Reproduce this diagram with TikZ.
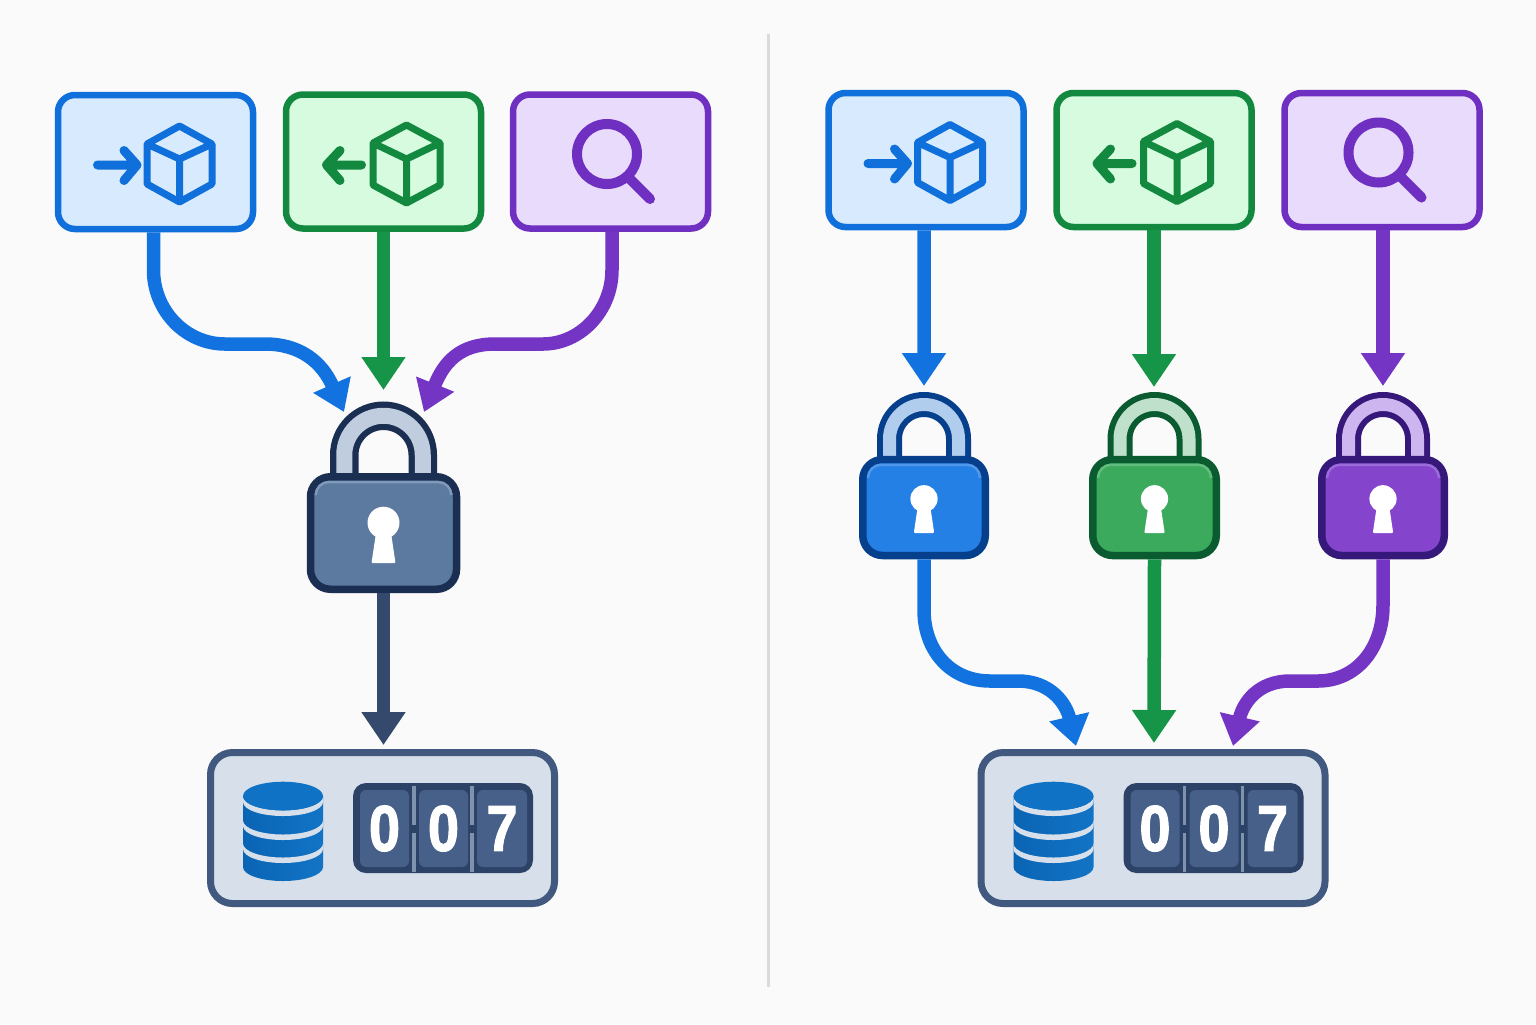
\documentclass[tikz,border=0pt]{standalone}
\usepackage{fontspec}
\newfontfamily\digitfont[FakeStretch=0.86,FakeBold=1.6,UprightFont=* Bold]{Liberation Sans}
\usetikzlibrary{arrows.meta, positioning, calc}

\definecolor{pagebg}{HTML}{FAFAFA}
\definecolor{rulegray}{HTML}{D9DADB}
\definecolor{edgeblue}{HTML}{0F6FDB}
\definecolor{tintblue}{HTML}{D8EAFD}
\definecolor{lineblue}{HTML}{1273E0}
\definecolor{edgegreen}{HTML}{12893F}
\definecolor{tintgreen}{HTML}{D6FBDF}
\definecolor{linegreen}{HTML}{169447}
\definecolor{edgepurple}{HTML}{6F2FC0}
\definecolor{tintpurple}{HTML}{E8DBFB}
\definecolor{linepurple}{HTML}{7434C4}
\definecolor{lineslate}{HTML}{34496C}
\definecolor{lockslate}{HTML}{5C7A9F}
\definecolor{darkslate}{HTML}{1B2F52}
\definecolor{bandslate}{HTML}{BFCDDE}
\definecolor{rimslate}{HTML}{7F99BB}
\definecolor{lockblue}{HTML}{2580E5}
\definecolor{darkblue}{HTML}{063F8C}
\definecolor{bandblue}{HTML}{B0CDEE}
\definecolor{rimblue}{HTML}{4F98EA}
\definecolor{lockgreen}{HTML}{3BAA5D}
\definecolor{darkgreen}{HTML}{0B5B30}
\definecolor{bandgreen}{HTML}{BFE0CB}
\definecolor{rimgreen}{HTML}{62BC7E}
\definecolor{lockpurple}{HTML}{8445CC}
\definecolor{darkpurple}{HTML}{36187A}
\definecolor{bandpurple}{HTML}{CDB5F0}
\definecolor{rimpurple}{HTML}{9C6BDA}
\definecolor{panelfill}{HTML}{D6DFEA}
\definecolor{paneledge}{HTML}{41597F}
\definecolor{counterdark}{HTML}{2C4266}
\definecolor{tilefill}{HTML}{46608A}
\definecolor{seamgray}{HTML}{7F93AF}
\definecolor{dbtop}{HTML}{0F72C4}
\definecolor{dbleft}{HTML}{0A64B4}
\definecolor{dbright}{HTML}{1274C6}

\begin{document}
\begin{tikzpicture}[
    opbox/.style={rectangle, draw, rounded corners=.17cm, line width=.065cm, minimum width=1.95cm, minimum height=1.34cm, inner sep=0pt},
    lockbody/.style={rectangle, draw, rounded corners=.2cm, line width=.075cm, inner sep=0pt},
    rim/.style={line width=.025cm, rounded corners=.13cm},
    conn/.style={-{Triangle[length=.33cm,width=.42cm]}, line width=.135cm},
    bent/.style={-{Triangle[length=.3cm,width=.39cm]}, line width=.135cm},
    tile/.style={rectangle, fill=tilefill, rounded corners=.06cm, minimum height=.77cm, inner sep=0pt, text=white, font=\digitfont\fontsize{18.5}{18.5}\selectfont},
    seam/.style={draw=seamgray, line width=.035cm},
    pics/putcube/.style={code={
        \draw[line width=.09cm, line cap=round, line join=round] (-.82,-.01) -- (-.425,-.01) (-.555,.135) -- (-.425,-.01) -- (-.555,-.165);
        \draw[line width=.07cm, line join=round] (0,.38) -- (.325,.2) -- (.325,-.2) -- (0,-.38) -- (-.325,-.2) -- (-.325,.2) -- cycle (-.325,.2) -- (0,.05) -- (.325,.2) (0,.05) -- (0,-.38);
    }},
    pics/getcube/.style={code={
        \draw[line width=.09cm, line cap=round, line join=round] (-.45,-.01) -- (-.8,-.01) (-.665,.135) -- (-.8,-.01) -- (-.665,-.165);
        \draw[line width=.07cm, line join=round] (0,.39) -- (.335,.21) -- (.335,-.21) -- (0,-.39) -- (-.335,-.21) -- (-.335,.21) -- cycle (-.335,.21) -- (0,.05) -- (.335,.21) (0,.05) -- (0,-.39);
    }},
    pics/lens/.style={code={
        \draw[line width=.1cm] (0,0) circle (.3);
        \draw[line width=.1cm, line cap=round] (.22,-.24) -- (.43,-.45);
    }},
    pics/shackle/.style n args={5}{code={
        \draw[draw=#4, line width=#2cm] (-#1,-.25) -- (-#1,0) arc (180:0:#1) -- (#1,-.25);
        \draw[draw=#5, line width=#3cm] (-#1,-.25) -- (-#1,0) arc (180:0:#1) -- (#1,-.25);
    }},
    pics/keyhole/.style={code={
        \fill[white] (0,.103) circle (.16);
        \fill[white, rounded corners=.01cm] (-.075,.0) -- (.075,.0) -- (.12,-.3) -- (-.12,-.3) -- cycle;
    }},
    pics/ledger/.style={code={
        \node[rectangle, draw=paneledge, fill=panelfill, rounded corners=.22cm, line width=.07cm, minimum width=3.44cm, minimum height=1.51cm, inner sep=0pt] (panel) at (0, 0) {};
        % Cylinder
        \shade[left color=dbleft, right color=dbright] (-1.395,.32) -- (-1.395,-.39) arc (180:360:.4 and .14) -- (-.595,.32) -- cycle;
        \fill[panelfill] (-1.395,.315) arc (180:360:.4 and .14) -- (-.595,.26) arc (360:180:.4 and .14) -- cycle;
        \fill[panelfill] (-1.395,.075) arc (180:360:.4 and .14) -- (-.595,.02) arc (360:180:.4 and .14) -- cycle;
        \fill[panelfill] (-1.395,-.155) arc (180:360:.4 and .14) -- (-.595,-.21) arc (360:180:.4 and .14) -- cycle;
        \fill[dbtop] (-.995,.32) ellipse (.4 and .143);
        % Counter
        \node[rectangle, fill=counterdark, rounded corners=.13cm, minimum width=1.8cm, minimum height=.9cm] (counter) at (.605, 0) {};
        \node[tile, minimum width=.49cm] (tile_a) at (.02, -.005) {0};
        \node[tile, minimum width=.49cm] (tile_b) at (.61, -.005) {0};
        \node[tile, minimum width=.5cm] (tile_c) at (1.195, -.005) {7};
        \draw[seam] (.315,.42) -- (.315,.03) (.315,-.05) -- (.315,-.44);
        \draw[seam] (.895,.42) -- (.895,.03) (.895,-.05) -- (.895,-.44);
    }}
]

% Page background
\path [fill=pagebg] (0, -10.24) rectangle (15.36, 0);

% Divider
\draw[rulegray, line width=.03cm] (7.68, -.34) -- (7.68, -9.87);

% ==================== LEFT SIDE ====================

\node[opbox, draw=edgeblue, fill=tintblue] (put_l) at (1.555, -1.62) {};
\node[opbox, draw=edgegreen, fill=tintgreen] (get_l) at (3.835, -1.615) {};
\node[opbox, draw=edgepurple, fill=tintpurple] (find_l) at (6.105, -1.615) {};

\pic[color=edgeblue] at (1.795, -1.64) {putcube};
\pic[color=edgegreen] at (4.065, -1.64) {getcube};
\pic[color=edgepurple] at (6.07, -1.54) {lens};

% Shared lock
\pic at (3.835, -4.55) {shackle={.3925}{.285}{.16}{darkslate}{bandslate}};
\node[lockbody, draw=darkslate, fill=lockslate, minimum width=1.46cm, minimum height=1.125cm] (lock_l) at (3.835, -5.33) {};
\draw[rim, rimslate] ([shift={(.09,-.2)}]lock_l.north west) -- ([shift={(.09,-.09)}]lock_l.north west) -- ([shift={(-.09,-.09)}]lock_l.north east) -- ([shift={(-.09,-.2)}]lock_l.north east);
\pic at (lock_l.center) {keyhole};

\coordinate (tip_la) at (3.44, -4.12);
\coordinate (tip_lb) at (3.835, -3.9);
\coordinate (tip_lc) at (4.24, -4.12);

\draw[bent, lineblue] ([xshift=-.02cm]put_l.south) -- (1.535, -2.7) .. controls (1.535, -3.11) and (1.86, -3.44) .. (2.25, -3.44) -- (2.65, -3.44) .. controls (3, -3.44) and (3.22, -3.62) .. (tip_la);
\draw[conn, linegreen] (get_l.south) -- (tip_lb);
\draw[bent, linepurple] ([xshift=.015cm]find_l.south) -- (6.12, -2.7) .. controls (6.12, -3.11) and (5.8, -3.44) .. (5.43, -3.44) -- (4.95, -3.44) .. controls (4.6, -3.44) and (4.44, -3.62) .. (tip_lc);

% Counter store
\pic (store_l) at (3.825, -8.28) {ledger};
\coordinate (tip_ld) at (3.835, -7.45);
\draw[conn, lineslate] (lock_l.south) -- (tip_ld);

% ==================== RIGHT SIDE ====================

\node[opbox, draw=edgeblue, fill=tintblue] (put_r) at (9.26, -1.6) {};
\node[opbox, draw=edgegreen, fill=tintgreen] (get_r) at (11.54, -1.6) {};
\node[opbox, draw=edgepurple, fill=tintpurple] (find_r) at (13.82, -1.6) {};

\pic[color=edgeblue] at (9.5, -1.625) {putcube};
\pic[color=edgegreen] at (11.77, -1.625) {getcube};
\pic[color=edgepurple] at (13.785, -1.525) {lens};

% One lock per operation
\pic at (9.24, -4.39) {shackle={.345}{.25}{.13}{darkblue}{bandblue}};
\node[lockbody, draw=darkblue, fill=lockblue, minimum width=1.225cm, minimum height=.96cm] (lock_a) at (9.24, -5.075) {};
\draw[rim, rimblue] ([shift={(.09,-.2)}]lock_a.north west) -- ([shift={(.09,-.09)}]lock_a.north west) -- ([shift={(-.09,-.09)}]lock_a.north east) -- ([shift={(-.09,-.2)}]lock_a.north east);
\pic[scale=.85] at (lock_a.center) {keyhole};

\pic at (11.545, -4.39) {shackle={.345}{.25}{.13}{darkgreen}{bandgreen}};
\node[lockbody, draw=darkgreen, fill=lockgreen, minimum width=1.235cm, minimum height=.96cm] (lock_b) at (11.545, -5.075) {};
\draw[rim, rimgreen] ([shift={(.09,-.2)}]lock_b.north west) -- ([shift={(.09,-.09)}]lock_b.north west) -- ([shift={(-.09,-.09)}]lock_b.north east) -- ([shift={(-.09,-.2)}]lock_b.north east);
\pic[scale=.85] at (lock_b.center) {keyhole};

\pic at (13.83, -4.39) {shackle={.345}{.25}{.13}{darkpurple}{bandpurple}};
\node[lockbody, draw=darkpurple, fill=lockpurple, minimum width=1.225cm, minimum height=.96cm] (lock_c) at (13.83, -5.075) {};
\draw[rim, rimpurple] ([shift={(.09,-.2)}]lock_c.north west) -- ([shift={(.09,-.09)}]lock_c.north west) -- ([shift={(-.09,-.09)}]lock_c.north east) -- ([shift={(-.09,-.2)}]lock_c.north east);
\pic[scale=.85] at (lock_c.center) {keyhole};

\coordinate (tip_ra) at (9.24, -3.86);
\coordinate (tip_rb) at (11.54, -3.87);
\coordinate (tip_rc) at (13.83, -3.86);

\draw[conn, lineblue] ([xshift=-.02cm]put_r.south) -- (tip_ra);
\draw[conn, linegreen] (get_r.south) -- (tip_rb);
\draw[conn, linepurple] ([xshift=.01cm]find_r.south) -- (tip_rc);

% Counter store
\pic (store_r) at (11.53, -8.28) {ledger};
\coordinate (tip_rd) at (10.76, -7.46);
\coordinate (tip_re) at (11.54, -7.43);
\coordinate (tip_rf) at (12.33, -7.46);

\draw[bent, lineblue] (lock_a.south) -- (9.24, -6.1) .. controls (9.24, -6.5) and (9.5, -6.81) .. (9.9, -6.81) -- (10.18, -6.81) .. controls (10.5, -6.81) and (10.66, -7.03) .. (tip_rd);
\draw[conn, linegreen] (lock_b.south) -- (tip_re);
\draw[bent, linepurple] (lock_c.south) -- (13.83, -6.05) .. controls (13.83, -6.5) and (13.55, -6.81) .. (13.18, -6.81) -- (12.9, -6.81) .. controls (12.58, -6.81) and (12.43, -7.03) .. (tip_rf);

\end{tikzpicture}
\end{document}
